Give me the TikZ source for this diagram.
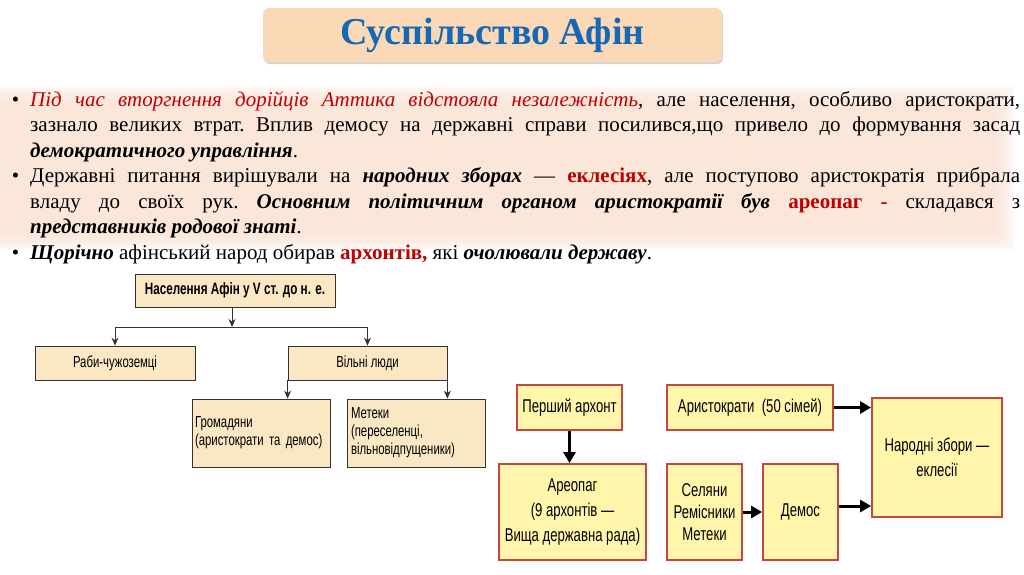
\documentclass[tikz,border=0pt]{standalone}
\usepackage{fontspec}
\setmainfont{Liberation Serif}
\newfontfamily\diagfont[FakeStretch=0.71]{Liberation Sans}
\usetikzlibrary{arrows.meta,shadows,positioning}

\definecolor{titlefill}{RGB}{251,216,182}
\definecolor{titleblue}{RGB}{22,104,178}
\definecolor{glow}{RGB}{250,226,212}
\definecolor{darkred}{RGB}{192,0,0}
\definecolor{tanfill}{RGB}{250,232,196}
\definecolor{yelfill}{RGB}{255,246,172}
\definecolor{redline}{RGB}{196,72,62}
\definecolor{grayline}{RGB}{50,50,50}

\tikzset{
  titlebox/.style={fill=titlefill, rounded corners=6pt, minimum width=459pt, minimum height=54pt,
    drop shadow={shadow xshift=1pt, shadow yshift=-2pt, opacity=0.35},
    font=\fontsize{38}{44}\selectfont\bfseries, text=titleblue},
  treebox/.style={draw=grayline, line width=0.8pt, fill=tanfill, inner sep=0pt,
    font=\diagfont\fontsize{16}{18}\selectfont},
  govbox/.style={draw=redline, line width=1.8pt, fill=yelfill, inner sep=0pt, align=center,
    font=\diagfont\fontsize{18.5}{25}\selectfont},
  treearrow/.style={draw=grayline, line width=0.9pt, -{Stealth[length=8pt,width=7pt]}},
  govarrow/.style={line width=3pt, -{Triangle[length=11pt,width=12pt]}}
}

\begin{document}
\begin{tikzpicture}[x=1pt,y=-1pt]
  \useasboundingbox (0,0) rectangle (1024,574);

  % заголовок
  \node[titlebox] (title) at (492.5,35) {Суспільство Афін};

  % текст
  \foreach \k in {0,...,9}
    \fill[glow, opacity=0.18] (-10,86+2*\k) rectangle (1014-2.5*\k,250-2*\k);
  \node[anchor=north west, inner sep=0pt, text width=990pt, align=justify,
        font=\fontsize{21}{25.5}\selectfont\frenchspacing] (bullets) at (30,91) {%
    \noindent\llap{•\hspace{11pt}}\textcolor{darkred}{\textit{Під час вторгнення дорійців Аттика відстояла незалежність}}, але населення, особливо аристократи,\linebreak
    зазнало великих втрат. Вплив демосу на державні справи посилився,що привело до формування засад\linebreak
    \textbf{\textit{демократичного управління}}.\par
    \noindent\llap{•\hspace{11pt}}Державні питання вирішували на \textbf{\textit{народних зборах}} — \textcolor{darkred}{\textbf{еклесіях}}, але поступово аристократія прибрала\linebreak
    владу до своїх рук. \textbf{\textit{Основним політичним органом аристократії був}} \textcolor{darkred}{\textbf{ареопаг -}} складався з\linebreak
    \textbf{\textit{представників родової знаті}}.\par
    \noindent\llap{•\hspace{11pt}}\textbf{\textit{Щорічно}} афінський народ обирав \textcolor{darkred}{\textbf{архонтів,}} які \textbf{\textit{очолювали державу}}.};

  % дерево населення
  \node[treebox, minimum width=200pt, minimum height=33pt, font=\diagfont\fontsize{16.5}{18}\selectfont\bfseries] (pop) at (235,290.5) {Населення Афін у V ст. до н. е.};
  \node[treebox, minimum width=160pt, minimum height=34pt] (slaves) at (115,363) {Раби-чужоземці};
  \node[treebox, minimum width=159pt, minimum height=34pt] (free) at (367.5,363) {Вільні люди};
  \node[treebox, minimum width=138pt, minimum height=68pt, text width=132pt, inner xsep=3pt, align=left] (citizens) at (261,433) {Громадяни\\(аристократи та демос)};
  \node[treebox, minimum width=138pt, minimum height=68pt, text width=130pt, inner xsep=4pt, align=left] (metics) at (416,433) {Метеки\\(переселенці,\\вільновідпущеники)};

  \coordinate (split) at (232,327);
  \draw[treearrow] (pop.south -| split) -- (split);
  \draw[grayline, line width=0.9pt] (split -| slaves.north) -- (split -| free.north);
  \draw[treearrow] (split -| slaves.north) -- (slaves.north);
  \draw[treearrow] (split -| free.north) -- (free.north);
  \draw[treearrow] (free.south west) -- (free.south west |- citizens.north);
  \draw[treearrow] (free.south east) -- (free.south east |- metics.north);

  % органи влади
  \node[govbox, minimum width=105pt, minimum height=45pt] (archon) at (569.5,407.5) {Перший архонт};
  \node[govbox, minimum width=147pt, minimum height=96pt] (areopagus) at (572.5,512) {Ареопаг\\(9 архонтів —\\Вища державна рада)};
  \node[govbox, minimum width=166pt, minimum height=45pt] (aristocrats) at (750,407.5) {Аристократи\ \ (50 сімей)};
  \node[govbox, minimum width=75pt, minimum height=96pt, font=\diagfont\fontsize{18.5}{22}\selectfont] (peasants) at (704.5,512) {Селяни\\Ремісники\\Метеки};
  \node[govbox, minimum width=75pt, minimum height=96pt] (demos) at (800.5,512) {Демос};
  \node[govbox, minimum width=130pt, minimum height=119pt] (assembly) at (937,457.5) {Народні збори —\\еклесії};

  \draw[govarrow] (archon.south) -- (archon.south |- areopagus.north);
  \draw[govarrow] (aristocrats.east) -- (aristocrats.east -| assembly.west);
  \draw[govarrow] (peasants.east) -- (demos.west);
  \draw[govarrow] ([yshift=6pt]demos.east) coordinate (d) -- (d -| assembly.west);
\end{tikzpicture}
\end{document}
